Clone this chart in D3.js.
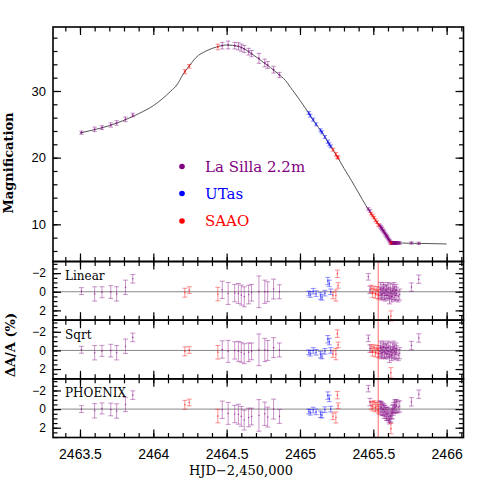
<!DOCTYPE html>
<html><head><meta charset="utf-8">
<script src="https://cdn.jsdelivr.net/npm/d3@7"></script>
<style>body{margin:0;background:#fff}</style>
</head><body>
<svg id="c" width="491" height="491"></svg>
<script>
// ---------------- data ----------------
const modelT = [2463.50,2463.60,2463.70,2463.80,2463.90,2464.00,2464.06,2464.12,2464.16,2464.18,2464.20,2464.25,2464.29,2464.36,2464.43,2464.50,2464.58,2464.67,2464.75,2464.80,2464.85,2464.90,2464.95,2465.00,2465.05,2465.10,2465.15,2465.20,2465.25,2465.30,2465.35,2465.40,2465.45,2465.50,2465.55,2465.58,2465.60,2465.625,2465.70,2465.80,2465.90,2466.00];
const modelA = [23.7,24.2,24.8,25.6,26.6,27.8,28.8,30.0,30.9,31.6,32.4,33.9,35.0,36.0,36.6,36.9,36.7,35.6,34.3,33.5,32.6,31.6,30.1,28.6,27.0,25.3,23.8,22.0,20.3,18.4,16.6,14.7,12.8,11.1,9.6,8.7,8.1,7.2,7.18,7.14,7.1,7.05];

const laSillaT = [2463.51,2463.60,2463.65,2463.71,2463.75,2463.81,2463.86,
  2464.47,2464.51,2464.555,2464.58,2464.60,2464.62,2464.65,2464.67,2464.72,2464.76,2464.78,2464.82,2464.86,
  2465.466,2465.477,
  2465.545,2465.550,2465.555,2465.560,2465.565,2465.570,2465.575,2465.580,2465.585,2465.590,2465.595,2465.600,2465.605,2465.610,2465.615,2465.620,2465.625,2465.630,2465.635,2465.640,2465.645,2465.650,2465.655,2465.660,2465.670,2465.680,
  2465.76,2465.81];
const laSillaA = [23.75,24.25,24.5,24.9,25.2,25.75,26.4,
  36.8,36.9,36.8,36.7,36.5,36.3,35.9,35.6,34.9,34.2,33.9,33.2,32.4,
  12.3,12.0,
  9.8,9.6,9.45,9.3,9.1,8.95,8.8,8.6,8.4,8.25,8.1,7.9,7.7,7.55,7.4,7.25,7.2,7.2,7.2,7.2,7.2,7.2,7.2,7.2,7.2,7.2,
  7.2,7.15];
const laSillaResLinear = [-0.07,0.23,0.05,0.03,0.23,-0.48,-1.39,
  -0.21,0.18,0.14,0.18,0.36,0.54,0.3,0.1,0.0,0.0,0.0,-0.29,0.0,
  -1.6,-0.2,
  0.1,-0.3,0.3,-0.1,0.2,-0.4,0.1,0.4,-0.2,0.0,0.3,-0.3,0.1,0.7,-0.2,0.2,0.5,-0.1,0.3,-0.4,0.1,0.4,-0.2,0.2,0.5,0.3,
  -0.5,-1.35];
const laSillaResSqrt = [-0.07,0.25,0.05,0.02,0.25,-0.45,-1.4,
  -0.1,0.1,0.0,0.1,0.2,0.35,0.2,0.1,-0.07,-0.05,0.0,-0.3,-0.05,
  -1.3,-0.2,
  0.1,-0.3,0.3,-0.1,0.2,-0.4,0.1,0.3,-0.2,0.0,0.3,-0.3,0.1,0.7,-0.2,0.2,0.5,-0.1,0.3,-0.4,0.1,0.4,-0.2,0.2,0.5,0.3,
  -0.53,-1.34];
const laSillaResPhoenix = [0.0,0.18,-0.07,0.04,0.2,-0.5,-1.5,
  0.07,0.46,0.53,0.55,0.78,1.18,0.9,0.8,0.68,0.5,0.86,0.0,0.78,
  -2.2,-0.75,
  -0.3,-0.1,-0.2,0.0,0.1,0.0,0.3,0.2,0.4,0.5,0.6,0.5,0.8,1.0,0.7,0.8,0.5,0.3,0.1,-0.1,-0.3,-0.2,-0.4,-0.3,-0.2,-0.3,
  -0.78,-1.6];
const laSillaErr = [0.37,0.77,0.59,0.68,0.77,0.77,0.46,
  0.93,1.18,0.93,1.07,1.07,1.07,1.0,0.9,1.7,1.25,1.07,1.07,0.75,
  0.35,0.4,
  0.6,0.7,0.6,0.7,0.6,0.6,0.7,0.6,0.6,0.7,0.6,0.7,0.6,0.6,0.7,0.6,0.6,0.7,0.6,0.6,0.7,0.6,0.6,0.7,0.6,0.6,
  0.45,0.45];

const utasT = [2465.06,2465.07,2465.09,2465.11,2465.14,2465.15,2465.17,2465.19,2465.20,2465.21];
const utasA = [26.7,26.3,25.7,25.0,24.1,23.8,23.1,22.4,22.0,21.7];
const utasResLinear = [0.18,0.3,-0.06,0.2,0.45,0.6,0.15,-1.15,-0.9,0.0];
const utasResSqrt = [0.2,0.3,0.0,0.2,0.45,0.6,0.1,-1.2,-0.95,0.0];
const utasResPhoenix = [0.25,0.35,0.1,0.3,0.55,0.65,0.05,-1.45,-1.15,0.0];
const utasErr = [0.25,0.3,0.3,0.3,0.35,0.3,0.3,0.4,0.35,0.3];

const saaoT = [2464.215,2464.245,2464.44,2465.225,2465.245,2465.255,2465.26,2465.485,2465.495,2465.505,2465.515,2465.525,2465.535,2465.62];
const saaoA = [32.9,33.7,36.6,21.2,20.5,20.1,20.0,11.6,11.3,11.0,10.6,10.3,9.9,7.2];
const saaoResLinear = [0.1,-0.18,0.25,0.4,0.4,-1.93,-0.68,-0.3,0.1,-0.2,0.2,-0.1,0.3,2.6];
const saaoResSqrt = [0.1,-0.05,0.2,0.4,0.4,-1.8,-0.6,-0.2,0.1,-0.2,0.2,-0.1,0.3,2.4];
const saaoResPhoenix = [-0.46,-0.71,0.75,0.78,0.9,-1.5,-0.36,-0.4,-0.3,-0.5,-0.2,-0.3,0.0,2.1];
const saaoErr = [0.48,0.36,0.73,0.35,0.6,0.4,0.3,0.4,0.5,0.4,0.5,0.45,0.5,0.55];

const panelNames = ["Linear","Sqrt","PHOENIX"];
const legendNames = ["La Silla 2.2m","UTas","SAAO"];
const xTickValues = [2463.5,2464,2464.5,2465,2465.5,2466];
const xTickLabels = ["2463.5","2464","2464.5","2465","2465.5","2466"];
const yTopTicks = [10,20,30];
const yResTicks = [-2,0,2];
const vLineT = 2465.534;

// ---------------- layout ----------------
const svg = d3.select("#c");
const L = 53, R = 463.5, T = 27, topB = 261.5, resB = 437.5;
const ph = (resB - topB) / 3;
const x = d3.scaleLinear().domain([2463.316, 2466.115]).range([L, R]);
const yTop = d3.scaleLinear().domain([4.42, 39.6]).range([topB, T]);
const panelTops = [0,1,2].map(i => topB + i*ph);
const yRes = panelTops.map(t => d3.scaleLinear().domain([-3.25, 3.05]).range([t, t+ph]));

const sites = [
  {name:"La Silla 2.2m", color:"#800080", t:laSillaT, A:laSillaA, res:[laSillaResLinear,laSillaResSqrt,laSillaResPhoenix], err:laSillaErr},
  {name:"UTas", color:"#0000ff", t:utasT, A:utasA, res:[utasResLinear,utasResSqrt,utasResPhoenix], err:utasErr},
  {name:"SAAO", color:"#ff0000", t:saaoT, A:saaoA, res:[saaoResLinear,saaoResSqrt,saaoResPhoenix], err:saaoErr}
];

const xMinor = d3.range(24634, 24662).map(v => v/10).filter(v => v >= 2463.316 && v <= 2466.115);
const yTopMinor = d3.range(6, 40, 2);
const yResMinor = d3.range(-6, 7).map(v => v/2);

function axesFor(g, ys, yMajor, yMinor, top, bottom, showX, yFmt, yFont){
  const mk = (axis, tx, ty, vals, size, fmt) => {
    const a = g.append("g").attr("transform", `translate(${tx},${ty})`)
      .call(axis.tickValues(vals).tickSizeInner(-size).tickSizeOuter(0).tickPadding(6).tickFormat(fmt));
    a.select(".domain").remove();
    a.selectAll("line").attr("stroke","#000").attr("stroke-width",1.2);
    return a;
  };
  const none = () => "";
  mk(d3.axisTop(x), 0, top, xTickValues, 8, none);
  mk(d3.axisTop(x), 0, top, xMinor, 4.5, none);
  const bx = mk(d3.axisBottom(x), 0, bottom, xTickValues, 8, showX ? ((d,i)=>xTickLabels[i]) : none);
  mk(d3.axisBottom(x), 0, bottom, xMinor, 4.5, none);
  bx.selectAll("text").attr("font-family","Liberation Sans, Arial, sans-serif").attr("font-size",14).attr("fill","#000").attr("dy","1.1em");
  const ly = mk(d3.axisLeft(ys), L, 0, yMajor, 8, yFmt);
  ly.selectAll("text").attr("font-family","Liberation Sans, Arial, sans-serif").attr("font-size",yFont).attr("fill","#000").attr("x",-7);
  mk(d3.axisLeft(ys), L, 0, yMinor, 4.5, none);
  mk(d3.axisRight(ys), R, 0, yMajor, 8, none);
  mk(d3.axisRight(ys), R, 0, yMinor, 4.5, none);
}

// ---------------- top panel ----------------
const gTop = svg.append("g");
gTop.append("path")
  .datum(modelT.map((t,i)=>[t, modelA[i]]))
  .attr("d", d3.line().x(d=>x(d[0])).y(d=>yTop(d[1])).curve(d3.curveMonotoneX))
  .attr("fill","none").attr("stroke","#555").attr("stroke-width",1);

function errorBars(g, site, xs, ys, vals, errs, cap, op, dotR){
  const sel = g.append("g").selectAll("g").data(site.t.map((t,i)=>i)).enter().append("g");
  sel.each(function(i){
    const gg = d3.select(this);
    const cx = xs(site.t[i]);
    const y0 = ys(vals[i] - errs[i]), y1 = ys(vals[i] + errs[i]);
    gg.append("line").attr("x1",cx).attr("x2",cx).attr("y1",y0).attr("y2",y1);
    gg.append("line").attr("x1",cx-cap).attr("x2",cx+cap).attr("y1",y0).attr("y2",y0);
    gg.append("line").attr("x1",cx-cap).attr("x2",cx+cap).attr("y1",y1).attr("y2",y1);
    gg.selectAll("line").attr("stroke",site.color).attr("stroke-opacity",op).attr("stroke-width",1);
    gg.append("circle").attr("cx",cx).attr("cy",ys(vals[i])).attr("r",dotR).attr("fill",site.color).attr("fill-opacity",0.6);
  });
}

sites.forEach(s => {
  const mErr = s.A.map((a,i)=> a * s.err[i] / 100 + 0.15);
  errorBars(gTop, s, x, yTop, s.A, mErr, 2.2, 0.45, 1.1);
});

axesFor(gTop, yTop, yTopTicks, yTopMinor, T, topB, false, d=>String(d), 13);

// legend
sites.forEach((s,i) => {
  const yy = [171.5, 198.5, 226][i];
  gTop.append("circle").attr("cx",182).attr("cy",yy-5).attr("r",2.8).attr("fill",s.color);
  gTop.append("text").attr("x",205).attr("y",yy).text(legendNames[i])
    .attr("font-family","DejaVu Serif, serif").attr("font-size",15).attr("fill",s.color);
});

// ---------------- residual panels ----------------
panelTops.forEach((pt, p) => {
  const g = svg.append("g");
  const ys = yRes[p];
  g.append("line").attr("x1",L).attr("x2",R).attr("y1",ys(0)).attr("y2",ys(0))
    .attr("stroke","#888").attr("stroke-width",1);
  g.append("line").attr("x1",x(vLineT)).attr("x2",x(vLineT)).attr("y1",pt).attr("y2",pt+ph)
    .attr("stroke","#ff0000").attr("stroke-opacity",0.4).attr("stroke-width",1.5);
  sites.forEach(s => errorBars(g, s, x, ys, s.res[p], s.err, 2.5, 0.42, 0.8));
  axesFor(g, ys, yResTicks, yResMinor, pt, pt+ph, p===2, d => d<0 ? "\u2212"+Math.abs(d) : String(d), 12);
  g.append("text").attr("x",65).attr("y",pt+18.5).text(panelNames[p])
    .attr("font-family","DejaVu Serif, serif").attr("font-size",12).attr("fill","#000");
});

// frames
svg.append("rect").attr("x",L).attr("y",T).attr("width",R-L).attr("height",topB-T)
  .attr("fill","none").attr("stroke","#000").attr("stroke-width",1.6);
panelTops.forEach(pt => svg.append("rect").attr("x",L).attr("y",pt).attr("width",R-L).attr("height",ph)
  .attr("fill","none").attr("stroke","#000").attr("stroke-width",1.6));

// axis titles
svg.append("text").attr("transform","translate(13,163) rotate(-90)").attr("text-anchor","middle")
  .text("Magnification").attr("font-family","DejaVu Serif, serif").attr("font-size",13).attr("font-weight","bold").attr("fill","#000");
svg.append("text").attr("transform","translate(15,345) rotate(-90)").attr("text-anchor","middle")
  .text("\u0394A/A (%)").attr("font-family","DejaVu Serif, serif").attr("font-size",13).attr("font-weight","bold").attr("fill","#000");
svg.append("text").attr("x",241).attr("y",475).attr("text-anchor","middle")
  .text("HJD\u22122,450,000").attr("font-family","DejaVu Serif, serif").attr("font-size",13).attr("fill","#000");
</script></body></html>
